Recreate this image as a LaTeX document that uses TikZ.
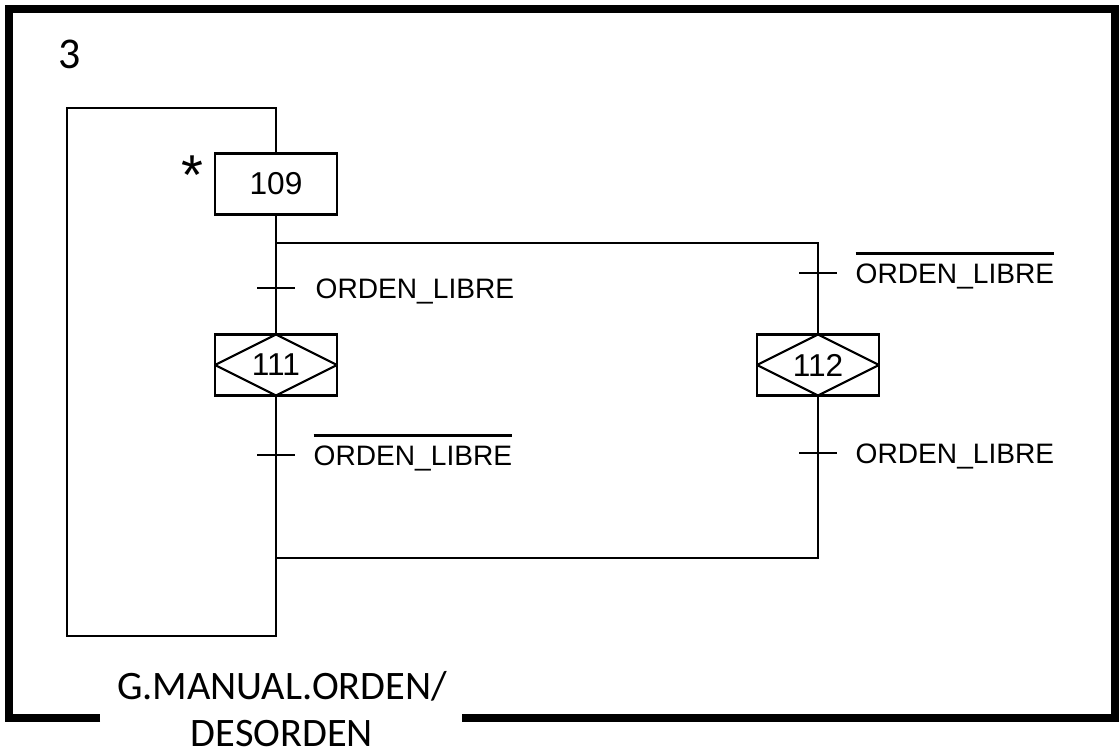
\documentclass[tikz,border=0pt]{standalone}
\usepackage{fontspec}
\setmainfont{Liberation Sans}
\newfontfamily\titlefont{Carlito}
\usetikzlibrary{positioning, calc}

% negated condition: text with a bar over it
\newcommand{\nega}[1]{\setbox0\hbox{#1}\rlap{\rule[\dimexpr\ht0+2.4pt\relax]{\wd0}{0.8pt}}\box0}

\tikzset{
  link/.style={line width=0.6pt},
  stepbox/.style={draw, line width=0.6pt, minimum width=12.2mm, minimum height=6.1mm, inner sep=0pt, font=\fontsize{9}{10}\selectfont},
  macrostep/.style={stepbox, path picture={
      \draw[line width=0.6pt] (path picture bounding box.west) -- (path picture bounding box.north)
        -- (path picture bounding box.east) -- (path picture bounding box.south) -- cycle;}},
  cond/.style={anchor=base west, inner sep=0pt, font=\fontsize{8}{9}\selectfont},
}

\begin{document}
\begin{tikzpicture}[x=0.1mm, y=-0.1mm]
\useasboundingbox (0,0) rectangle (1120,755);

% Frame of the task
\draw[line width=2.3pt, line join=miter] (100,718) -- (9,718) -- (9,9) -- (1115,9) -- (1115,718) -- (462,718);
\node[anchor=base west, inner sep=0pt, font=\titlefont\fontsize{12.5}{14}\selectfont] (num) at (58,68) {3};
\node[align=center, inner sep=0pt, font=\titlefont\fontsize{11.5}{13.6}\selectfont] (name) at (282,709) {G.MANUAL.ORDEN/\\DESORDEN};

% Steps
\node[stepbox] (s109) at (276,184) {109};
\node[font=\fontsize{16}{16}\selectfont, inner sep=0pt] (star) at (192,175) {*};
\foreach \n/\x in {111/276, 112/818} {
   \node[macrostep] (m\n) at (\x,365) {\n};
}

% Transitions
\foreach \t/\x/\y in {t1/276/288, t2/276/455, t3/818/273, t4/818/453} {
   \coordinate (\t) at (\x,\y);
   \draw[link] ($(\t)+(-19,0)$) -- ($(\t)+(19,0)$);
}
\node[cond] (c1) at ($(t1)+(39,10)$) {ORDEN\_LIBRE};
\node[cond] (c2) at ($(t2)+(37,10)$) {\nega{ORDEN\_LIBRE}};
\node[cond] (c3) at ($(t3)+(37,10)$) {\nega{ORDEN\_LIBRE}};
\node[cond] (c4) at ($(t4)+(37,10)$) {ORDEN\_LIBRE};

% Links
\coordinate (div) at (276,243);
\coordinate (divr) at (818,243);
\coordinate (join) at (276,558);
\coordinate (joinr) at (818,558);
\draw[link] (s109.south) -- (m111.north);
\draw[link] (div) -- (divr) -- (m112.north);
\draw[link] (m112.south) -- (joinr) -- (join);
\draw[link, line join=miter] (m111.south) -- (276,636) -- (67,636) -- (67,108) -- (276,108) -- (s109.north);
\end{tikzpicture}
\end{document}
